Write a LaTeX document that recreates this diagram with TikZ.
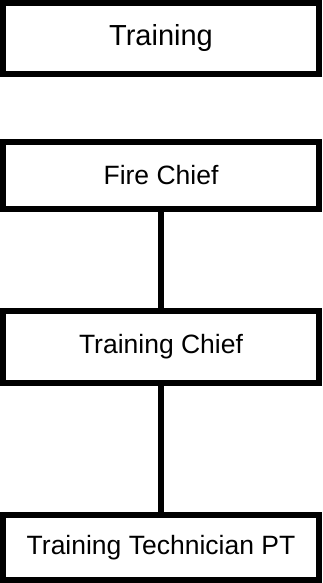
\documentclass[tikz,border=0pt]{standalone}
\usepackage{fontspec}
\setmainfont{Liberation Sans}
\begin{document}
\begin{tikzpicture}[x=1pt,y=-1pt,
    post/.style={draw, line width=6pt, minimum width=316pt, inner sep=0pt,
                 font=\fontsize{26.5}{30}\selectfont},
    link/.style={line width=6pt}]
                \useasboundingbox (0,0) rectangle (322,583);
                \node [post, minimum height=71pt, font=\fontsize{29}{32}\selectfont] (T) at (161,38.5) {Training};
                \node [post, minimum height=67pt] (FC) at (161,175.5) {Fire Chief};
                \node [post, minimum height=72pt] (TC) at (161,347) {Training Chief};
                \node [post, minimum height=65pt] (TT) at (161,547.5) {Training Technician PT};
                \draw [link] (FC) -- (TC);
                \draw [link] (TC) -- (TT);
            \end{tikzpicture}
\end{document}
